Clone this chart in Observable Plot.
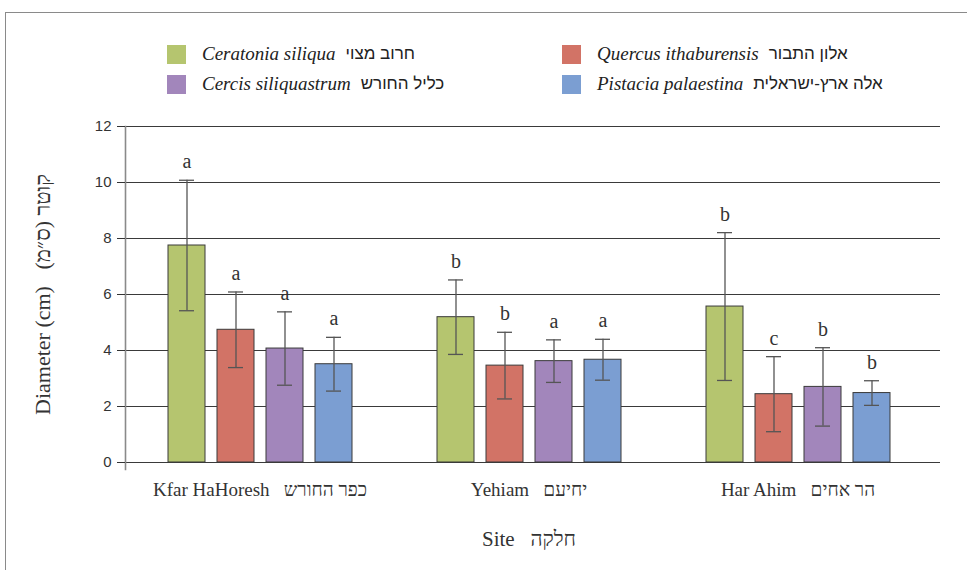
<!DOCTYPE html>
<html><head><meta charset="utf-8">
<script src="https://cdn.jsdelivr.net/npm/d3@7"></script>
<script src="https://cdn.jsdelivr.net/npm/@observablehq/plot@0.6"></script>
<style>
body{margin:0;background:#fff;}
#wrap{position:relative;width:967px;height:570px;overflow:hidden;font-family:"Liberation Serif",serif;color:#222;}
#box{position:absolute;left:5px;top:12px;width:990px;height:600px;border:1.5px solid #8a8a8a;box-sizing:border-box;}
.leg{position:absolute;display:flex;align-items:center;height:20px;font-size:19px;white-space:nowrap;}
.sw{width:19px;height:19px;margin-right:16px;}
.la{font-style:italic;}
.he{font-family:"Liberation Sans","DejaVu Sans",sans-serif;font-size:17px;margin-left:10px;direction:rtl;unicode-bidi:isolate;}
#chart{position:absolute;left:0;top:100px;}
</style></head>
<body><div id="wrap"><div id="box"></div><div id="legend"></div><div id="chart"></div></div>
<script>
const sites = ["Kfar HaHoresh", "Yehiam", "Har Ahim"];
const sitesHe = ["כפר החורש", "יחיעם", "הר אחים"];
const species = ["Ceratonia siliqua", "Quercus ithaburensis", "Cercis siliquastrum", "Pistacia palaestina"];
const speciesHe = ["חרוב מצוי", "אלון התבור", "כליל החורש", "אלה ארץ-ישראלית"];
const colors = ["#b5c56f", "#d27366", "#a286bb", "#7b9ed2"];
// means per site (order of species)
const kfarMeans = [7.75, 4.74, 4.07, 3.51];
const yehiamMeans = [5.19, 3.46, 3.62, 3.67];
const harMeans = [5.57, 2.44, 2.70, 2.48];
// error (± half range)
const kfarErr = [2.33, 1.35, 1.31, 0.96];
const yehiamErr = [1.33, 1.19, 0.76, 0.73];
const harErr = [2.64, 1.34, 1.40, 0.44];
// significance letters
const kfarLetters = ["a", "a", "a", "a"];
const yehiamLetters = ["b", "b", "a", "a"];
const harLetters = ["b", "c", "b", "b"];
const yTicks = [0, 2, 4, 6, 8, 10, 12];
const yLabel = "Diameter (cm)\u00a0\u00a0\u00a0קוטר (ס״מ)\u200f";
const xLabel = "Site\u00a0\u00a0\u00a0חלקה";

const allMeans = [kfarMeans, yehiamMeans, harMeans];
const allErr = [kfarErr, yehiamErr, harErr];
const allLetters = [kfarLetters, yehiamLetters, harLetters];
const rows = [];
sites.forEach((s, i) => species.forEach((sp, j) => rows.push({
  site: s, species: sp, mean: allMeans[i][j], err: allErr[i][j], letter: allLetters[i][j]
})));
const gridRows = [];
sites.forEach((s, i) => yTicks.forEach(v => gridRows.push({site: s, v, last: i === sites.length - 1})));

// legend
const legendOrder = [[0, 167, 44], [1, 562, 44], [2, 167, 74], [3, 562, 74]];
const lg = document.getElementById("legend");
legendOrder.forEach(([k, left, top]) => {
  const d = document.createElement("div");
  d.className = "leg";
  d.style.left = left + "px"; d.style.top = top + "px";
  d.innerHTML = `<span class="sw" style="background:${colors[k]}"></span><span class="la">${species[k]}</span><span class="he">${speciesHe[k]}</span>`;
  lg.appendChild(d);
});

const chart = Plot.plot({
  width: 967, height: 470,
  marginLeft: 125, marginRight: 26, marginTop: 26, marginBottom: 108,
  style: {fontFamily: "Liberation Serif, serif", background: "transparent", color: "#333"},
  fx: {domain: sites, paddingInner: 0, paddingOuter: 0.0145, align: 0, label: null},
  x: {domain: species, paddingInner: 0.245, paddingOuter: 0.851, axis: null},
  y: {domain: [0, 12], axis: null},
  color: {domain: species, range: colors},
  marks: [
    Plot.ruleY(gridRows.filter(d => !d.last), {fx: "site", y: "v", stroke: "#3a3a3a", strokeWidth: 1}),
    Plot.ruleY(gridRows.filter(d => d.last), {fx: "site", y: "v", stroke: "#3a3a3a", strokeWidth: 1, insetRight: -8}),
    Plot.barY(rows, {fx: "site", x: "species", y: "mean", fill: "species", stroke: "#3a3a3a", strokeWidth: 1}),
    Plot.ruleX(rows, {fx: "site", x: "species", y1: d => d.mean - d.err, y2: d => d.mean + d.err, stroke: "#555", strokeWidth: 1.3}),
    Plot.tickY(rows, {fx: "site", x: "species", y: d => d.mean + d.err, insetLeft: 11, insetRight: 11, stroke: "#555", strokeWidth: 1.3}),
    Plot.tickY(rows, {fx: "site", x: "species", y: d => d.mean - d.err, insetLeft: 11, insetRight: 11, stroke: "#555", strokeWidth: 1.3}),
    Plot.text(rows, {fx: "site", x: "species", y: d => d.mean + d.err, text: "letter", dy: -12, lineAnchor: "bottom", fontSize: 20, fill: "#333"}),
    Plot.frame({anchor: "left", facet: "super", stroke: "#8a8a8a", strokeWidth: 1.6, insetBottom: -7}),
    Plot.axisY(yTicks, {anchor: "left", tickSize: 8, tickPadding: 6, fontSize: 15, fontFamily: "Liberation Sans, sans-serif", label: null, stroke: "#333"}),
    Plot.axisFx({anchor: "bottom", tickSize: 0, tickPadding: 20, fontSize: 19,
      tickFormat: d => d + "\u00a0\u00a0\u00a0" + sitesHe[sites.indexOf(d)], label: null}),
    Plot.text([yLabel], {text: d => d, frameAnchor: "left", textAnchor: "middle", rotate: -90, dx: -83, fontSize: 22, fill: "#333", facet: "super"}),
    Plot.text([xLabel], {text: d => d, frameAnchor: "bottom", textAnchor: "middle", dy: 83, fontSize: 21, fill: "#333", facet: "super"})
  ]
});
document.getElementById("chart").appendChild(chart);
</script></body></html>
